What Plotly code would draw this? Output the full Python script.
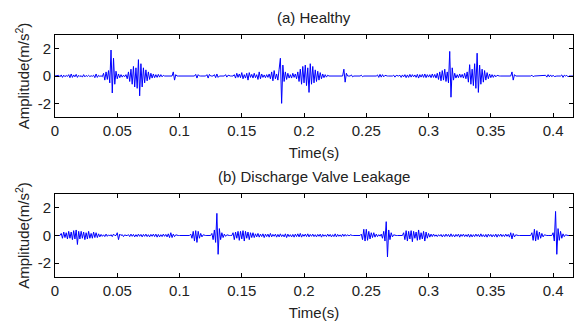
import numpy as np
import plotly.graph_objects as go
from plotly.subplots import make_subplots

# Sampling grid (1 ms) and amplitudes (m/s^2)
dt = 0.001
healthy = [
    0, 0, 0, 0.05, -0.06, 0.08, -0.1, 0.06, -0.05, 0.04,
    -0.03, 0.1, -0.12, 0.15, -0.1, 0.08, -0.06, 0.12, -0.1, 0.05,
    -0.04, 0.03, -0.08, 0.1, -0.06, 0.04, -0.03, 0.05, -0.04, 0.02,
    -0.02, 0.06, -0.12, 0.15, -0.1, 0.05, -0.03, 0.02, -0.05, 0.2,
    -0.3, 0.3, -0.25, 0.4, -0.5, 1.9, -1.24, 1.3, -0.6, 0.35,
    -0.2, 0.15, -0.12, 0.1, -0.08, 0.06, -0.05, 0.1, -0.2, 0.3,
    -0.4, 0.5, -0.6, 0.7, -0.8, 0.6, -0.9, 1.2, -1.45, 0.9,
    -0.8, 0.6, -0.5, 0.45, -0.35, 0.3, -0.25, 0.2, -0.15, 0.15,
    -0.12, 0.1, -0.1, 0.12, -0.08, 0.1, -0.06, 0.05, 0, 0,
    0, 0, 0, 0, 0, 0.3, -0.3, 0.1, 0, 0,
    0, 0, 0, 0, 0, 0, 0, 0, 0, 0,
    0, 0, 0, 0.12, -0.15, 0.1, 0, 0, 0, 0,
    0, 0, 0.1, -0.15, 0.12, 0, 0, 0, 0.1, -0.12,
    0.15, -0.1, 0, 0, 0, 0, 0, 0.1, -0.08, 0.06,
    0, 0, 0, 0, 0.1, -0.15, 0.2, -0.1, 0.15, -0.12,
    0.25, -0.2, 0.1, -0.15, 0.2, -0.3, 0.25, -0.1, 0.12, -0.15,
    0.2, -0.12, 0.1, -0.25, 0.3, -0.2, 0.15, -0.1, 0.08, -0.12,
    0.1, -0.1, 0.15, -0.2, 0.3, -0.35, 0.4, -0.2, 0.15, -0.3,
    0.5, 1.3, -2.0, 0.8, -0.4, 0.3, -0.25, 0.2, -0.15, 0.1,
    -0.15, 0.2, -0.1, 0.15, -0.2, 0.3, -0.4, 0.5, -0.6, 0.7,
    -0.5, 0.8, -0.7, 0.6, -1.2, 0.9, -0.6, 0.7, -0.5, 0.45,
    -0.4, 0.35, -0.3, 0.25, -0.2, 0.15, -0.12, 0.1, -0.08, 0.06,
    0, 0, 0, 0, 0, 0, 0, 0, 0, 0,
    0, 0, 0.5, -0.45, 0.2, 0, 0, 0, 0.08, -0.06,
    0, 0, 0, 0, 0, 0, 0.06, -0.05, 0, 0,
    0, 0, 0, 0, 0, 0, 0, 0, 0, 0.08,
    -0.1, 0.12, -0.08, 0.1, -0.06, 0.05, 0, 0, 0, 0,
    0, 0, 0.06, -0.08, 0.05, 0, 0, 0.06, -0.1, 0.08,
    -0.06, 0.1, -0.12, 0.08, -0.1, 0.12, -0.08, 0.1, -0.06, 0.08,
    -0.1, 0.12, -0.15, 0.1, -0.08, 0.12, -0.1, 0.15, -0.12, 0.1,
    -0.08, 0.1, -0.12, 0.15, -0.1, 0.12, -0.15, 0.2, -0.25, 0.3,
    -0.35, 0.4, -0.3, 0.5, -0.4, 0.3, -0.5, 1.8, -1.55, 0.6,
    -0.3, 0.2, -0.15, 0.1, -0.12, 0.15, -0.1, 0.12, -0.15, 0.2,
    -0.2, 0.3, -0.45, 0.83, -0.6, 0.5, -0.7, 0.9, -0.9, 1.67,
    -1.2, 0.8, -0.6, 0.5, -0.45, 0.4, -0.3, 0.25, -0.2, 0.15,
    -0.12, 0.1, -0.1, 0.08, -0.06, 0.05, 0, 0, 0, 0,
    0, 0, 0, 0, 0, 0, 0, 0.3, -0.3, 0.1,
    0, 0, 0, 0, 0, 0, 0, 0, 0, 0,
    0, 0, 0, 0.06, -0.05, 0, 0, 0, 0, 0,
    0, 0, 0, 0, 0.05, -0.08, 0.1, -0.06, 0.08, -0.05,
    0.06, -0.04, 0, 0, 0, 0, 0, 0.08, -0.1, 0.06,
    0, 0.05, -0.06, 0, 0, 0, 0,
]
leakage = [
    0, 0, 0, 0, 0, 0.15, -0.2, 0.25, -0.15, 0.2,
    -0.25, 0.3, -0.2, 0.25, -0.3, 0.35, -0.25, 0.4, -0.65, 0.3,
    -0.25, 0.3, -0.2, 0.25, -0.3, 0.2, -0.25, 0.3, -0.2, 0.15,
    -0.2, 0.25, -0.15, 0.2, -0.15, 0.12, -0.1, 0.08, -0.06, 0.05,
    -0.08, 0.1, -0.06, 0.05, -0.04, 0.06, -0.08, 0.1, 0, 0,
    0.2, -0.3, 0.1, 0, 0.06, -0.08, 0.05, 0, 0, 0.06,
    -0.08, 0.1, -0.06, 0.08, -0.1, 0.06, -0.08, 0.1, -0.06, 0.08,
    -0.1, 0.08, -0.06, 0.1, -0.08, 0.06, -0.1, 0.08, -0.06, 0.1,
    -0.08, 0.1, -0.12, 0.08, -0.1, 0.06, -0.08, 0.1, -0.06, 0.08,
    -0.1, 0.12, -0.15, 0.2, -0.15, 0.1, -0.08, 0.05, 0, 0,
    0, 0, 0, 0, 0, 0, 0, 0, 0, 0.1,
    -0.2, 0.3, -0.4, 0.35, -0.5, 0.3, -0.2, 0.15, -0.1, 0.05,
    0, 0, 0, 0, 0, 0, 0.15, -0.3, 0.4, -0.5,
    1.6, -1.36, 0.5, -0.3, 0.2, -0.15, 0.1, -0.06, 0.05, 0,
    0, 0, 0, 0.2, -0.3, 0.25, -0.2, 0.3, -0.35, 0.3,
    -0.25, 0.35, -0.4, 0.3, -0.2, 0.25, -0.3, 0.2, -0.15, 0.2,
    -0.15, 0.12, -0.1, 0.15, -0.12, 0.1, -0.08, 0.12, -0.15, 0.1,
    -0.08, 0.1, -0.12, 0.15, -0.1, 0.08, -0.06, 0.1, -0.12, 0.08,
    -0.1, 0.12, -0.08, 0.06, -0.1, 0.12, -0.15, 0.1, -0.08, 0.06,
    -0.1, 0.08, -0.12, 0.1, -0.08, 0.12, -0.1, 0.15, -0.12, 0.08,
    -0.06, 0.1, -0.08, 0.12, -0.1, 0.08, -0.06, 0.1, -0.08, 0.06,
    -0.1, 0.08, -0.06, 0.1, -0.12, 0.08, -0.06, 0.05, -0.08, 0.1,
    -0.06, 0.08, -0.1, 0.06, -0.08, 0.12, -0.1, 0.08, -0.06, 0.05,
    -0.08, 0.1, -0.06, 0.08, -0.05, 0.06, -0.04, 0.05, 0, 0,
    0, 0, 0, 0, 0, 0, 0.1, -0.3, 0.45, -0.4,
    0.45, -0.35, 0.3, -0.25, 0.2, -0.15, 0.2, -0.12, 0.1, -0.08,
    0.06, -0.05, 0.1, -0.2, 0.3, -0.4, 1.0, -1.55, 0.4, -0.3,
    0.2, -0.1, 0.05, 0, 0, 0, 0, 0, 0, 0,
    0.2, -0.3, 0.35, -0.4, 0.3, -0.25, 0.35, -0.45, 0.3, -0.2,
    0.25, -0.35, 0.4, -0.3, 0.2, -0.25, 0.3, -0.4, 0.25, -0.2,
    0.15, -0.12, 0.1, -0.08, 0.1, -0.06, 0.05, -0.08, 0.06, -0.05,
    0.08, -0.1, 0.06, -0.08, 0.1, -0.06, 0.08, -0.1, 0.12, -0.08,
    0.06, -0.1, 0.08, -0.06, 0.1, -0.12, 0.08, -0.06, 0.1, -0.08,
    0.06, -0.08, 0.1, -0.12, 0.08, -0.1, 0.06, -0.08, 0.1, -0.06,
    0.08, -0.1, 0.12, -0.08, 0.06, -0.1, 0.08, -0.12, 0.1, -0.06,
    0.08, -0.1, 0.06, -0.08, 0.1, -0.12, 0.08, -0.06, 0.1, -0.08,
    0.06, -0.08, 0.1, -0.06, 0.08, -0.12, 0.2, -0.25, 0.15, -0.1,
    0.05, 0, 0, 0, 0, 0, 0, 0, 0, 0,
    0, 0, 0, 0.2, -0.35, 0.45, -0.4, 0.35, -0.3, 0.25,
    -0.2, 0.15, -0.1, 0.05, 0, 0, 0, 0, 0, 0,
    0.2, -0.4, 1.74, -1.36, 0.5, -0.35, 0.3, -0.2, 0.12, -0.08,
    0.05, 0, 0, 0, 0, 0, 0,
]
x_ticks = [0, 0.05, 0.1, 0.15, 0.2, 0.25, 0.3, 0.35, 0.4]
x_tick_labels = ["0", "0.05", "0.1", "0.15", "0.2", "0.25", "0.3", "0.35", "0.4"]
y_ticks = [-2, 0, 2]
y_tick_labels = ["-2", "0", "2"]
titles = ["(a) Healthy", "(b) Discharge Valve Leakage"]

t_h = np.arange(len(healthy)) * dt
t_l = np.arange(len(leakage)) * dt

FONT = "Liberation Sans, Arial, sans-serif"
TXT = "#222"
fig = make_subplots(rows=2, cols=1, vertical_spacing=0.0)

fig.add_trace(go.Scatter(x=t_h, y=healthy, mode="lines",
                         line=dict(color="#0000FF", width=1)), row=1, col=1)
fig.add_trace(go.Scatter(x=t_l, y=leakage, mode="lines",
                         line=dict(color="#0000FF", width=1)), row=2, col=1)

axis_common = dict(showline=True, linecolor="black", linewidth=1, mirror="ticks",
                   ticks="inside", ticklen=4, tickcolor="black", showgrid=False,
                   zeroline=False, tickfont=dict(family=FONT, size=15, color=TXT))
for r in (1, 2):
    fig.update_xaxes(range=[0, 0.416], tickvals=x_ticks, ticktext=x_tick_labels,
                     title=dict(text="Time(s)", font=dict(family=FONT, size=15, color=TXT),
                                standoff=9),
                     row=r, col=1, **axis_common)
    fig.update_yaxes(range=[-3, 3], tickvals=y_ticks, ticktext=y_tick_labels,
                     title=dict(text="Amplitude(m/s<sup>2</sup>)",
                                font=dict(family=FONT, size=15, color=TXT), standoff=4),
                     row=r, col=1, **axis_common)

fig.update_layout(
    width=574, height=325,
    margin=dict(l=55, r=1, t=35, b=48),
    paper_bgcolor="white", plot_bgcolor="white",
    showlegend=False,
    yaxis=dict(domain=[0.661, 1.0]),
    yaxis2=dict(domain=[0.0, 0.343]),
)
fig.add_annotation(text=titles[0], x=0.5, y=1.0, xref="paper", yref="paper",
                   yanchor="middle", yshift=18, showarrow=False, xanchor="center",
                   font=dict(family=FONT, size=15, color=TXT))
fig.add_annotation(text=titles[1], x=0.5, y=0.343, xref="paper", yref="paper",
                   yanchor="middle", yshift=17, showarrow=False, xanchor="center",
                   font=dict(family=FONT, size=15, color=TXT))

fig.write_html("out.html")
